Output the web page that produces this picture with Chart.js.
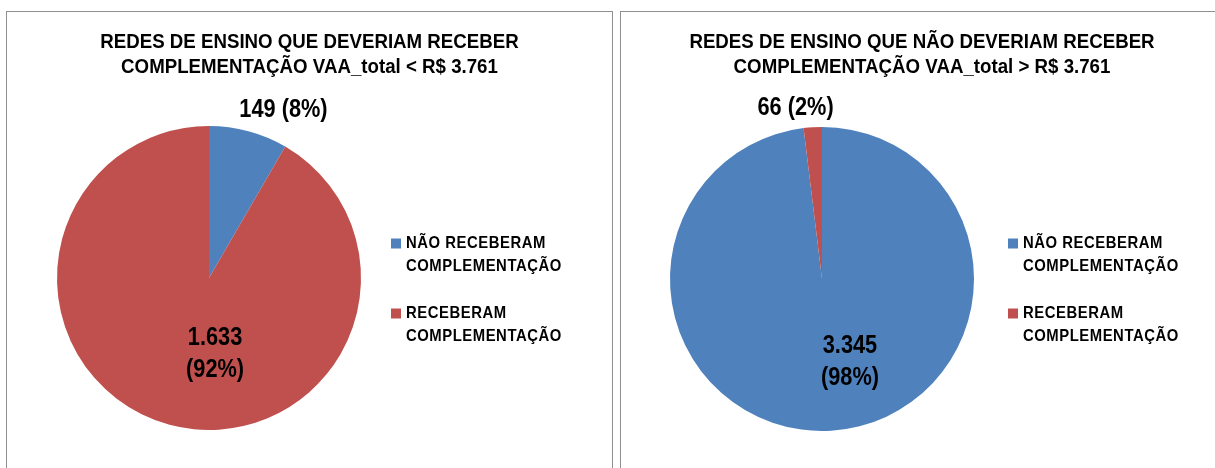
<!DOCTYPE html>
<html><head><meta charset="utf-8">
<script src="https://cdn.jsdelivr.net/npm/chart.js@4.4.1/dist/chart.umd.min.js"></script>
<style>
html,body{margin:0;padding:0;background:#fff;overflow:hidden}
#wrap{position:relative;width:1215px;height:468px;overflow:hidden}
.panel{position:absolute;border:1px solid #8f8f8f;box-sizing:border-box}
#p1{left:6px;top:11px;width:607px;height:480px}
#p2{left:620px;top:11px;width:620px;height:480px}
canvas{position:absolute}
</style></head><body>
<div id="wrap">
<div class="panel" id="p1"></div>
<div class="panel" id="p2"></div>
<canvas id="c1" width="604" height="456" style="left:7px;top:12px;width:604px;height:456px"></canvas>
<canvas id="c2" width="594" height="456" style="left:621px;top:12px;width:594px;height:456px"></canvas>
</div>
<script>
// ---- data ----
const categories = ['NÃO RECEBERAM COMPLEMENTAÇÃO', 'RECEBERAM COMPLEMENTAÇÃO'];
const legendLines = [['NÃO RECEBERAM', 'COMPLEMENTAÇÃO'], ['RECEBERAM', 'COMPLEMENTAÇÃO']];
const leftValues = [149, 1633];
const rightValues = [3345, 66];
const leftTitle = ['REDES DE ENSINO QUE DEVERIAM RECEBER', 'COMPLEMENTAÇÃO VAA_total < R$ 3.761'];
const rightTitle = ['REDES DE ENSINO QUE NÃO DEVERIAM RECEBER', 'COMPLEMENTAÇÃO VAA_total > R$ 3.761'];
const sliceColors = ['#4F81BD', '#C0504D'];

const FONT = '"Liberation Sans", Arial, sans-serif';
function fmt(v){ return String(v).replace(/\B(?=(\d{3})+(?!\d))/g, '.'); }

function drawText(ctx, text, x, y, size, sx, ls, align){
  ctx.save();
  ctx.font = 'bold ' + size + 'px ' + FONT;
  ctx.letterSpacing = ls + 'px';
  ctx.textBaseline = 'middle';
  ctx.textAlign = 'left';
  ctx.fillStyle = '#000';
  let w = ctx.measureText(text).width;
  ctx.translate(x, y);
  ctx.scale(sx, 1);
  let off = 0;
  if (align === 'center') off = -w / 2;
  ctx.fillText(text, off, 0);
  ctx.restore();
}

const annotPlugin = {
  id: 'annot',
  afterDatasetsDraw(chart, args, opts){
    const ctx = chart.ctx;
    // title
    opts.title.forEach((line, i) => {
      drawText(ctx, line, opts.titleX, opts.titleY + i * opts.titleGap, 21, 0.89, 0, 'center');
    });
    // data labels
    const meta = chart.getDatasetMeta(0);
    const data = chart.data.datasets[0].data;
    const total = data.reduce((a, b) => a + b, 0);
    meta.data.forEach((arc, i) => {
      const p = opts.labels[i];
      const cx = arc.x + p.dx * arc.outerRadius;
      const cy = arc.y + p.dy * arc.outerRadius;
      const num = fmt(data[i]);
      const pct = '(' + Math.round(data[i] / total * 100) + '%)';
      if (p.lines === 1) {
        drawText(ctx, num + ' ' + pct, cx, cy, 25, 0.87, 0, 'center');
      } else {
        drawText(ctx, num, cx, cy - 16, 25, 0.87, 0, 'center');
        drawText(ctx, pct, cx, cy + 16, 25, 0.87, 0, 'center');
      }
    });
    // legend
    const lx = chart.chartArea.right + opts.legendDX;
    legendLines.forEach((lines, i) => {
      const y0 = opts.legendY[i];
      ctx.fillStyle = sliceColors[i];
      ctx.fillRect(lx, y0 - 5, 10, 10);
      lines.forEach((t, j) => {
        drawText(ctx, t, lx + 15, y0 + j * 23, 16.5, 0.9, 0.6, 'left');
      });
    });
  }
};

function makeChart(id, values, title, padding, opts){
  return new Chart(document.getElementById(id), {
    type: 'pie',
    data: {
      labels: categories,
      datasets: [{ data: values, backgroundColor: sliceColors, borderWidth: 0, hoverOffset: 0 }]
    },
    options: {
      responsive: false,
      animation: false,
      events: [],
      layout: { padding: padding },
      plugins: {
        legend: { display: false },
        title: { display: false },
        tooltip: { enabled: false },
        annot: Object.assign({ title: title }, opts)
      }
    },
    plugins: [annotPlugin]
  });
}

makeChart('c1', leftValues, leftTitle,
  { left: 50, top: 114, right: 250, bottom: 38 },
  { titleX: 302.5, titleY: 30.5, titleGap: 25,
    labels: [{ dx: 0.49, dy: -1.105, lines: 1 }, { dx: 0.04, dy: 0.5, lines: 2 }],
    legendDX: 30, legendY: [231.5, 301.5] });

makeChart('c2', rightValues, rightTitle,
  { left: 49, top: 115, right: 241, bottom: 37 },
  { titleX: 301, titleY: 30.5, titleGap: 25,
    labels: [{ dx: 0.184, dy: 0.55, lines: 2 }, { dx: -0.174, dy: -1.125, lines: 1 }],
    legendDX: 34, legendY: [231.5, 301.5] });
</script>
</body></html>
